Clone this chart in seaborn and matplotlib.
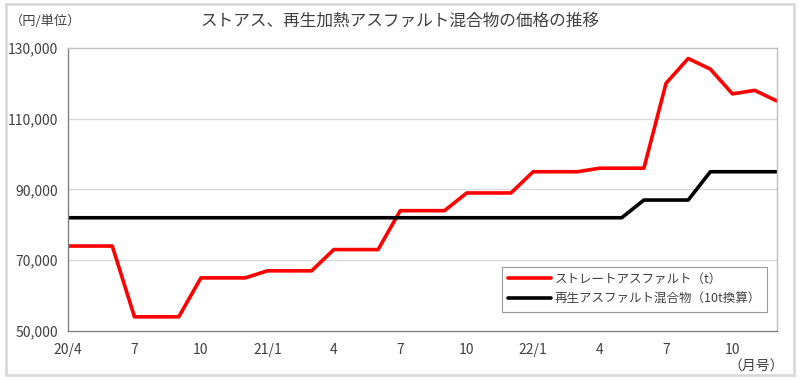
import matplotlib
matplotlib.use("Agg")
import matplotlib.pyplot as plt
import matplotlib.patches as mpatches
import seaborn as sns
import pandas as pd
import numpy as np

# Data (monthly, 2020/4 .. 2022/12)
months = list(range(33))
straight_asphalt = [74000, 74000, 74000, 54000, 54000, 54000, 65000, 65000, 65000,
                    67000, 67000, 67000, 73000, 73000, 73000, 84000, 84000, 84000,
                    89000, 89000, 89000, 95000, 95000, 95000, 96000, 96000, 96000,
                    120000, 127000, 124000, 117000, 118000, 115000]
recycled_mix = [82000] * 26 + [87000, 87000, 87000, 95000, 95000, 95000, 95000]
tick_pos = [0, 3, 6, 9, 12, 15, 18, 21, 24, 27, 30]
tick_labels = ["20/4", "7", "10", "21/1", "4", "7", "10", "22/1", "4", "7", "10"]
y_ticks = [50000, 70000, 90000, 110000, 130000]
series_names = ["ストレートアスファルト（t）", "再生アスファルト混合物（10t換算）"]

df = pd.DataFrame({"month": months,
                   series_names[0]: straight_asphalt,
                   series_names[1]: recycled_mix})
long = df.melt(id_vars="month", var_name="series", value_name="price")

sns.set_theme(style="white")
plt.rcParams['font.family'] = ['Noto Sans CJK JP', 'DejaVu Sans']

fig = plt.figure(figsize=(8, 3.8), dpi=100)
ax = fig.add_axes([0.085, 0.129, 0.886, 0.745])

sns.lineplot(data=long, x="month", y="price", hue="series",
             palette={series_names[0]: "#ff0000", series_names[1]: "#000000"},
             linewidth=2.6, ax=ax, legend=True)

ax.set_xlim(0, 32)
ax.set_ylim(50000, 130000)
ax.set_yticks(y_ticks)
ax.set_yticklabels([f"{v:,}" for v in y_ticks], fontsize=10, color="#404040")
ax.set_xticks(tick_pos)
ax.set_xticklabels(tick_labels, fontsize=10, color="#404040")
ax.set_xlabel("")
ax.set_ylabel("")
for y in y_ticks[1:-1]:
    ax.axhline(y, color="#d9d9d9", linewidth=1, zorder=0)

ax.tick_params(axis="x", direction="out", length=4, width=0.8, color="#808080", pad=5)
ax.tick_params(axis="y", length=0, pad=7)
for s in ["left", "bottom"]:
    ax.spines[s].set_color("#808080")
    ax.spines[s].set_linewidth(1)
for s in ["top", "right"]:
    ax.spines[s].set_color("#bfbfbf")
    ax.spines[s].set_linewidth(1)

leg = ax.legend(loc="lower right", bbox_to_anchor=(0.995, 0.045), fontsize=9,
                frameon=True, fancybox=False, handlelength=3.4,
                borderpad=0.5, labelspacing=0.55, handletextpad=0.3)
leg.get_frame().set_edgecolor("#808080")
leg.get_frame().set_linewidth(0.8)
for t in leg.get_texts():
    t.set_color("#404040")

fig.text(0.5, 0.945, "ストアス、再生加熱アスファルト混合物の価格の推移",
         ha="center", va="center", fontsize=12, color="#404040")
fig.text(0.012, 0.945, "（円/単位）", ha="left", va="center", fontsize=9.5, color="#404040")
fig.text(0.91, 0.035, "（月号）", ha="left", va="center", fontsize=10, color="#404040")

fig.patches.append(mpatches.Rectangle((0.007, 0.013), 0.985, 0.977, transform=fig.transFigure,
                                      fill=False, edgecolor="#d9d9d9", linewidth=2))

fig.savefig("out.png", dpi=100)
